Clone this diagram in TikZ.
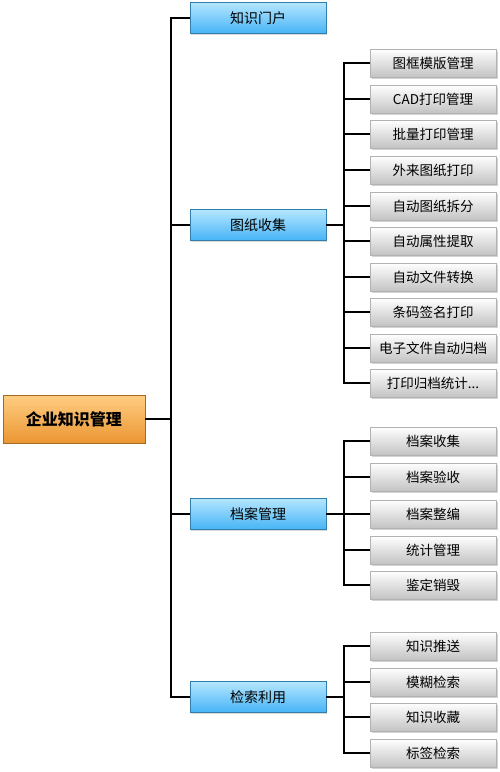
\documentclass[tikz,border=0pt]{standalone}
\usepackage{fontspec}
\setmainfont{Noto Sans CJK SC}
\usetikzlibrary{shadows}
\definecolor{bluetop}{RGB}{180,230,255}
\definecolor{bluebot}{RGB}{70,180,245}
\definecolor{orgtop}{RGB}{255,205,130}
\definecolor{orgbot}{RGB}{235,150,50}
\definecolor{graybot}{RGB}{195,195,195}
\tikzset{
  rootbox/.style={draw=orgbot!70!black, line width=0.4pt, top color=orgtop, bottom color=orgbot, minimum width=142pt, minimum height=48pt, font=\fontsize{16}{18}\selectfont\bfseries, inner sep=0pt, drop shadow={opacity=0.3, shadow xshift=1pt, shadow yshift=-1pt}},
  midbox/.style={draw=bluebot!70!black, line width=0.4pt, top color=bluetop, bottom color=bluebot, minimum width=136pt, minimum height=31pt, font=\fontsize{14}{16}\selectfont, inner sep=0pt, drop shadow={opacity=0.3, shadow xshift=1pt, shadow yshift=-1pt}},
  leafbox/.style={draw=gray!60, line width=0.4pt, top color=white, bottom color=graybot, minimum width=126pt, minimum height=28pt, font=\fontsize{13.5}{15}\selectfont, inner sep=0pt, drop shadow={opacity=0.35, shadow xshift=1.5pt, shadow yshift=-1.5pt}},
  conn/.style={draw=black, line width=1.3pt}
}
\begin{document}
\begin{tikzpicture}[x=1pt,y=-1pt]
\useasboundingbox (0,0) rectangle (500,772);
\node[rootbox] (root) at (74,419) {企业知识管理};
\node[midbox] (m1) at (258,18) {知识门户};
\node[midbox] (m2) at (258,225) {图纸收集};
\node[midbox] (m3) at (258,514) {档案管理};
\node[midbox] (m4) at (258,697) {检索利用};
% leaves of m2
\node[leafbox] (a1) at (433,63) {图框模版管理};
\node[leafbox] (a2) at (433,99) {CAD打印管理};
\node[leafbox] (a3) at (433,134) {批量打印管理};
\node[leafbox] (a4) at (433,170) {外来图纸打印};
\node[leafbox] (a5) at (433,206) {自动图纸拆分};
\node[leafbox] (a6) at (433,241) {自动属性提取};
\node[leafbox] (a7) at (433,277) {自动文件转换};
\node[leafbox] (a8) at (433,312) {条码签名打印};
\node[leafbox] (a9) at (433,348) {电子文件自动归档};
\node[leafbox] (a10) at (433,383) {打印归档统计...};
% leaves of m3
\node[leafbox] (b1) at (433,441) {档案收集};
\node[leafbox] (b2) at (433,477) {档案验收};
\node[leafbox] (b3) at (433,514) {档案整编};
\node[leafbox] (b4) at (433,550) {统计管理};
\node[leafbox] (b5) at (433,585) {鉴定销毁};
% leaves of m4
\node[leafbox] (c1) at (433,646) {知识推送};
\node[leafbox] (c2) at (433,682) {模糊检索};
\node[leafbox] (c3) at (433,717) {知识收藏};
\node[leafbox] (c4) at (433,753) {标签检索};
% trunk
\coordinate (tk) at (171,419);
\draw[conn] (root.east) -- (tk);
\draw[conn] (m1.west) -| (tk) |- (m4.west);
\draw[conn] (tk) |- (m2.west);
\draw[conn] (tk) |- (m3.west);
% branch m2
\coordinate (j2) at (344,225);
\draw[conn] (m2.east) -- (j2);
\draw[conn] (a1.west) -| (j2) |- (a10.west);
\foreach \n in {a2,a3,a4,a5,a6,a7,a8,a9} \draw[conn] (j2) |- (\n.west);
% branch m3
\coordinate (j3) at (344,514);
\draw[conn] (m3.east) -- (j3);
\draw[conn] (b1.west) -| (j3) |- (b5.west);
\foreach \n in {b2,b3,b4} \draw[conn] (j3) |- (\n.west);
% branch m4
\coordinate (j4) at (344,697);
\draw[conn] (m4.east) -- (j4);
\draw[conn] (c1.west) -| (j4) |- (c4.west);
\foreach \n in {c2,c3} \draw[conn] (j4) |- (\n.west);
\end{tikzpicture}
\end{document}
